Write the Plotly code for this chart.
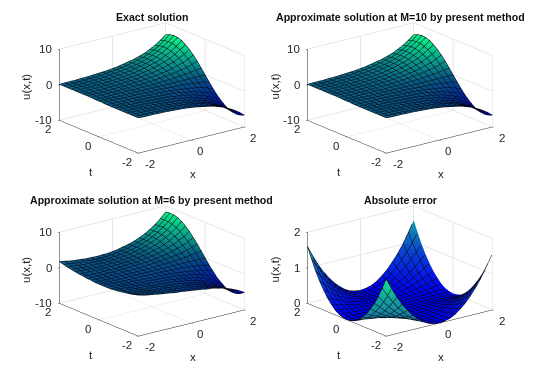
import plotly.graph_objects as go

x_vals = [-2.0,-1.8,-1.6,-1.4,-1.2,-1.0,-0.8,-0.6,-0.4,-0.2,0.0,0.2,0.4,0.6,0.8,1.0,1.2,1.4,1.6,1.8,2.0]
t_vals = x_vals

exact_u = [
[-.1,-.2,-.2,-.2,-.3,-.3,-.4,-.5,-.6,-.7,-.9,-1.1,-1.4,-1.7,-2.0,-2.5,-3.0,-3.7,-4.5,-5.5,-6.7],
[-.1,-.2,-.2,-.2,-.3,-.4,-.4,-.5,-.7,-.8,-1.0,-1.2,-1.5,-1.8,-2.2,-2.6,-3.2,-3.9,-4.8,-5.9,-7.2],
[-.1,-.2,-.2,-.2,-.3,-.4,-.4,-.5,-.7,-.8,-1.0,-1.2,-1.5,-1.8,-2.2,-2.7,-3.3,-4.1,-5.0,-6.0,-7.4],
[-.1,-.2,-.2,-.2,-.3,-.4,-.4,-.5,-.7,-.8,-1.0,-1.2,-1.5,-1.8,-2.2,-2.7,-3.3,-4.0,-4.9,-6.0,-7.3],
[-.1,-.2,-.2,-.2,-.3,-.3,-.4,-.5,-.6,-.8,-.9,-1.1,-1.4,-1.7,-2.1,-2.5,-3.1,-3.8,-4.6,-5.6,-6.9],
[-.1,-.1,-.2,-.2,-.3,-.3,-.4,-.5,-.6,-.7,-.8,-1.0,-1.3,-1.5,-1.9,-2.3,-2.8,-3.4,-4.2,-5.1,-6.2],
[-.1,-.1,-.1,-.2,-.2,-.3,-.3,-.4,-.5,-.6,-.7,-.9,-1.1,-1.3,-1.6,-1.9,-2.4,-2.9,-3.6,-4.3,-5.3],
[-.1,-.1,-.1,-.1,-.2,-.2,-.3,-.3,-.4,-.5,-.6,-.7,-.8,-1.0,-1.3,-1.5,-1.9,-2.3,-2.8,-3.4,-4.2],
[-.1,-.1,-.1,-.1,-.1,-.1,-.2,-.2,-.3,-.3,-.4,-.5,-.6,-.7,-.9,-1.1,-1.3,-1.6,-1.9,-2.4,-2.9],
[0,0,0,0,-.1,-.1,-.1,-.1,-.1,-.2,-.2,-.2,-.3,-.4,-.4,-.5,-.7,-.8,-1.0,-1.2,-1.5],
[0,0,0,0,0,0,0,0,0,0,0,0,0,0,0,0,0,0,0,0,0],
[0,0,0,0,.1,.1,.1,.1,.1,.2,.2,.2,.3,.4,.4,.5,.7,.8,1.0,1.2,1.5],
[.1,.1,.1,.1,.1,.1,.2,.2,.3,.3,.4,.5,.6,.7,.9,1.1,1.3,1.6,1.9,2.4,2.9],
[.1,.1,.1,.1,.2,.2,.3,.3,.4,.5,.6,.7,.8,1.0,1.3,1.5,1.9,2.3,2.8,3.4,4.2],
[.1,.1,.1,.2,.2,.3,.3,.4,.5,.6,.7,.9,1.1,1.3,1.6,1.9,2.4,2.9,3.6,4.3,5.3],
[.1,.1,.2,.2,.3,.3,.4,.5,.6,.7,.8,1.0,1.3,1.5,1.9,2.3,2.8,3.4,4.2,5.1,6.2],
[.1,.2,.2,.2,.3,.3,.4,.5,.6,.8,.9,1.1,1.4,1.7,2.1,2.5,3.1,3.8,4.6,5.6,6.9],
[.1,.2,.2,.2,.3,.4,.4,.5,.7,.8,1.0,1.2,1.5,1.8,2.2,2.7,3.3,4.0,4.9,6.0,7.3],
[.1,.2,.2,.2,.3,.4,.4,.5,.7,.8,1.0,1.2,1.5,1.8,2.2,2.7,3.3,4.1,5.0,6.0,7.4],
[.1,.2,.2,.2,.3,.4,.4,.5,.7,.8,1.0,1.2,1.5,1.8,2.2,2.6,3.2,3.9,4.8,5.9,7.2],
[.1,.2,.2,.2,.3,.3,.4,.5,.6,.7,.9,1.1,1.4,1.7,2.0,2.5,3.0,3.7,4.5,5.5,6.7],
]
m10_u = exact_u

m6_u = [
[1.5,1.1,.8,.6,.3,.1,-.1,-.4,-.5,-.7,-.9,-1.1,-1.3,-1.6,-1.7,-2.1,-2.4,-2.9,-3.5,-4.2,-5.1],
[1.2,.8,.6,.4,.2,-.1,-.2,-.4,-.6,-.8,-1.0,-1.2,-1.4,-1.7,-2.0,-2.3,-2.7,-3.3,-4.0,-4.8,-5.9],
[.9,.6,.5,.3,.1,-.1,-.2,-.4,-.7,-.8,-1.0,-1.2,-1.5,-1.7,-2.0,-2.4,-2.9,-3.6,-4.3,-5.2,-6.4],
[.7,.4,.3,.2,0,-.2,-.3,-.4,-.7,-.8,-1.0,-1.2,-1.5,-1.7,-2.1,-2.5,-3.0,-3.6,-4.4,-5.4,-6.5],
[.5,.3,.2,.1,-.1,-.2,-.3,-.5,-.6,-.8,-.9,-1.1,-1.4,-1.7,-2.0,-2.4,-2.9,-3.5,-4.2,-5.1,-6.3],
[.3,.2,.1,0,-.2,-.2,-.3,-.5,-.6,-.7,-.8,-1.0,-1.3,-1.5,-1.8,-2.2,-2.7,-3.2,-3.9,-4.8,-5.8],
[.2,.1,.1,-.1,-.1,-.2,-.3,-.4,-.5,-.6,-.7,-.9,-1.1,-1.3,-1.6,-1.8,-2.3,-2.8,-3.4,-4.1,-5.0],
[0,0,0,0,-.2,-.2,-.3,-.3,-.4,-.5,-.6,-.7,-.8,-1.0,-1.3,-1.5,-1.8,-2.2,-2.7,-3.3,-4.1],
[0,0,0,-.1,-.1,-.1,-.2,-.2,-.3,-.3,-.4,-.5,-.6,-.7,-.9,-1.1,-1.3,-1.6,-1.9,-2.3,-2.8],
[0,0,0,0,-.1,-.1,-.1,-.1,-.1,-.2,-.2,-.2,-.3,-.4,-.4,-.5,-.7,-.8,-1.0,-1.2,-1.5],
[0,0,0,0,0,0,0,0,0,0,0,0,0,0,0,0,0,0,0,0,0],
[0,0,0,0,.1,.1,.1,.1,.1,.2,.2,.2,.3,.4,.4,.5,.7,.8,1.0,1.2,1.5],
[.2,.1,.1,.1,.1,.1,.2,.2,.3,.3,.4,.5,.6,.7,.9,1.1,1.3,1.6,2.0,2.4,3.0],
[.2,.2,.2,.2,.3,.2,.3,.3,.4,.5,.6,.7,.8,1.0,1.3,1.5,2.0,2.4,2.9,3.5,4.3],
[.4,.3,.3,.3,.3,.4,.3,.4,.5,.6,.7,.9,1.1,1.3,1.6,2.0,2.5,3.0,3.8,4.5,5.6],
[.5,.4,.5,.4,.4,.4,.5,.5,.6,.7,.8,1.0,1.3,1.5,2.0,2.4,2.9,3.6,4.5,5.4,6.6],
[.7,.7,.6,.5,.5,.4,.5,.6,.6,.8,.9,1.1,1.4,1.8,2.2,2.6,3.3,4.1,5.0,6.1,7.5],
[.9,.8,.7,.6,.6,.6,.5,.6,.7,.8,1.0,1.2,1.5,1.9,2.3,2.9,3.6,4.4,5.4,6.6,8.1],
[1.1,1.0,.9,.7,.7,.7,.6,.6,.7,.8,1.0,1.2,1.5,1.9,2.4,3.0,3.7,4.6,5.7,6.8,8.4],
[1.4,1.2,1.0,.8,.8,.7,.6,.6,.7,.8,1.0,1.2,1.5,1.9,2.4,2.9,3.7,4.5,5.6,6.9,8.5],
[1.7,1.5,1.2,1.0,.9,.7,.7,.6,.7,.7,.9,1.1,1.5,1.8,2.3,2.9,3.6,4.5,5.5,6.8,8.3],
]

_r20 = [1.60,1.30,1.02,.78,.58,.40,.26,.14,.06,.02,0,.02,.06,.14,.26,.40,.58,.78,1.02,1.30,1.60]
_r18 = [1.30,1.05,.83,.64,.47,.32,.21,.12,.05,.01,0,.01,.05,.12,.21,.32,.47,.64,.83,1.05,1.30]
_r16 = [1.02,.83,.66,.50,.37,.26,.16,.09,.04,.01,0,.01,.04,.09,.16,.26,.37,.50,.66,.83,1.02]
_r14 = [.78,.64,.50,.38,.28,.20,.13,.07,.03,.01,0,.01,.03,.07,.13,.20,.28,.38,.50,.64,.78]
_r12 = [.58,.47,.37,.28,.21,.14,.09,.05,.02,.01,0,.01,.02,.05,.09,.14,.21,.28,.37,.47,.58]
_r10 = [.40,.32,.26,.20,.14,.10,.06,.04,.02,0,0,0,.02,.04,.06,.10,.14,.20,.26,.32,.40]
_r08 = [.26,.21,.16,.13,.09,.06,.04,.02,.01,0,0,0,.01,.02,.04,.06,.09,.13,.16,.21,.26]
_r06 = [.14,.12,.09,.07,.05,.04,.02,.01,.01,0,0,0,.01,.01,.02,.04,.05,.07,.09,.12,.14]
_r04 = [.06,.05,.04,.03,.02,.02,.01,.01,0,0,0,0,0,.01,.01,.02,.02,.03,.04,.05,.06]
_r02 = [.02,.01,.01,.01,.01,0,0,0,0,0,0,0,0,0,0,0,.01,.01,.01,.01,.02]
_r00 = [0]*21
err_u = [_r20,_r18,_r16,_r14,_r12,_r10,_r08,_r06,_r04,_r02,_r00,_r02,_r04,_r06,_r08,_r10,_r12,_r14,_r16,_r18,_r20]

titles = ["Exact solution","Approximate solution at M=10 by present method",
          "Approximate solution at M=6 by present method","Absolute error"]
xt_ticks = [-2,0,2]
z_ticks = [[-10,0,10],[-10,0,10],[-10,0,10],[0,1,2]]
z_ranges = [[-10,10],[-10,10],[-10,10],[0,2]]
c_ranges = [[-7.4,6.9],[-7.4,6.9],[-6.5,8.4],[0,1]]
surfaces = [exact_u,m10_u,m6_u,err_u]

W,H = 536,371
centers = [(151.5,88),(400,88),(151.5,271),(400,271)]
HALF_W,HALF_H = 134,87

cs_main = [[0,"rgb(0,0,215)"],[.3,"rgb(3,50,150)"],[.5,"rgb(8,85,130)"],[.75,"rgb(10,160,140)"],[1,"rgb(10,235,135)"]]
# Error panel: the inner side runs blue to teal; the front corner, seen from beneath, runs teal to green.
cs_err = [[0,"rgb(0,0,240)"],[.25,"rgb(10,65,215)"],[.5,"rgb(15,165,175)"],
          [.5,"rgb(25,115,170)"],[.8,"rgb(20,170,165)"],[1,"rgb(15,250,140)"]]
err_color = [[(.5+.5*v/1.6) if (x<0 and t<0 and x*t>=.96) else .5*v/1.6 for x,v in zip(x_vals,row)]
             for t,row in zip(t_vals,err_u)]

R = 1.35
eye = dict(x=-.578*R,y=-.750*R,z=.3206*R)
fig = go.Figure()
layout = dict(width=W,height=H,margin=dict(l=0,r=0,t=0,b=0),paper_bgcolor="white",showlegend=False,
              font=dict(family="Liberation Sans",color="#262626"))
annos = []
TICK = dict(size=11.5,family="Liberation Sans",color="#262626")
for i,(zz,(cx,cy)) in enumerate(zip(surfaces,centers)):
    name = "scene" if i==0 else f"scene{i+1}"
    extra = dict(surfacecolor=err_color) if i==3 else {}
    fig.add_trace(go.Surface(x=x_vals,y=t_vals,z=zz,scene=name,showscale=False,
        colorscale=cs_err if i==3 else cs_main,cmin=c_ranges[i][0],cmax=c_ranges[i][1],
        lighting=dict(ambient=.95,diffuse=.1,specular=0,roughness=1,fresnel=0),
        contours=dict(x=dict(show=True,start=-2,end=2,size=.2,color="#05050a",width=2),
                      y=dict(show=True,start=-2,end=2,size=.2,color="#05050a",width=2)),
        hoverinfo="skip",**extra))
    def ax(vals,rng):
        return dict(range=rng,tickvals=vals,showticklabels=False,showbackground=False,showgrid=True,
            gridcolor="#d2d2d2",gridwidth=1,zeroline=False,showline=True,linecolor="#262626",linewidth=1,
            ticks="inside",ticklen=2,tickcolor="#262626",title=dict(text=""),showspikes=False)
    zmin = z_ranges[i][0]
    sa = []
    for v in xt_ticks:
        sa.append(dict(x=v,y=-2,z=zmin,text=str(v),showarrow=False,xshift=9 if v>-2 else 12,yshift=-11,font=TICK))
        sa.append(dict(x=-2,y=v,z=zmin,text=str(v),showarrow=False,xshift=-10.5,yshift=-9,font=TICK))
    for v in z_ticks[i]:
        sa.append(dict(x=-2,y=2,z=v,text=str(v),showarrow=False,xanchor="right",xshift=-5,font=TICK))
    layout[name] = dict(domain=dict(x=[(cx-HALF_W)/W,(cx+HALF_W)/W],y=[1-(cy+HALF_H)/H,1-(cy-HALF_H)/H]),
        xaxis=ax(xt_ticks,[-2,2]),yaxis=ax(xt_ticks,[-2,2]),zaxis=ax(z_ticks[i],z_ranges[i]),
        aspectmode="manual",aspectratio=dict(x=1.543,y=1.484,z=.865),annotations=sa,
        camera=dict(eye=eye,up=dict(x=0,y=0,z=1),center=dict(x=0,y=0,z=0),projection=dict(type="orthographic")))
    annos.append(dict(text=f"<b>{titles[i]}</b>",x=cx/W,y=1-(cy-71)/H,xref="paper",yref="paper",showarrow=False,
                      font=dict(size=10.6,color="#111"),xanchor="center",yanchor="middle"))
    annos.append(dict(text="u(x,t)",x=(cx-125.5)/W,y=1-(cy-1)/H,xref="paper",yref="paper",showarrow=False,textangle=-90,
                      font=dict(size=11.5),xanchor="center",yanchor="middle"))
    annos.append(dict(text="t",x=(cx-61)/W,y=1-(cy+84)/H,xref="paper",yref="paper",showarrow=False,font=dict(size=11.5),xanchor="center",yanchor="middle"))
    annos.append(dict(text="x",x=(cx+41)/W,y=1-(cy+86)/H,xref="paper",yref="paper",showarrow=False,font=dict(size=11.5),xanchor="center",yanchor="middle"))
layout["annotations"]=annos
fig.update_layout(**layout)
fig.write_html("out.html",config=dict(displayModeBar=False),post_script="document.body.style.margin='0';document.documentElement.style.overflow='hidden';")
